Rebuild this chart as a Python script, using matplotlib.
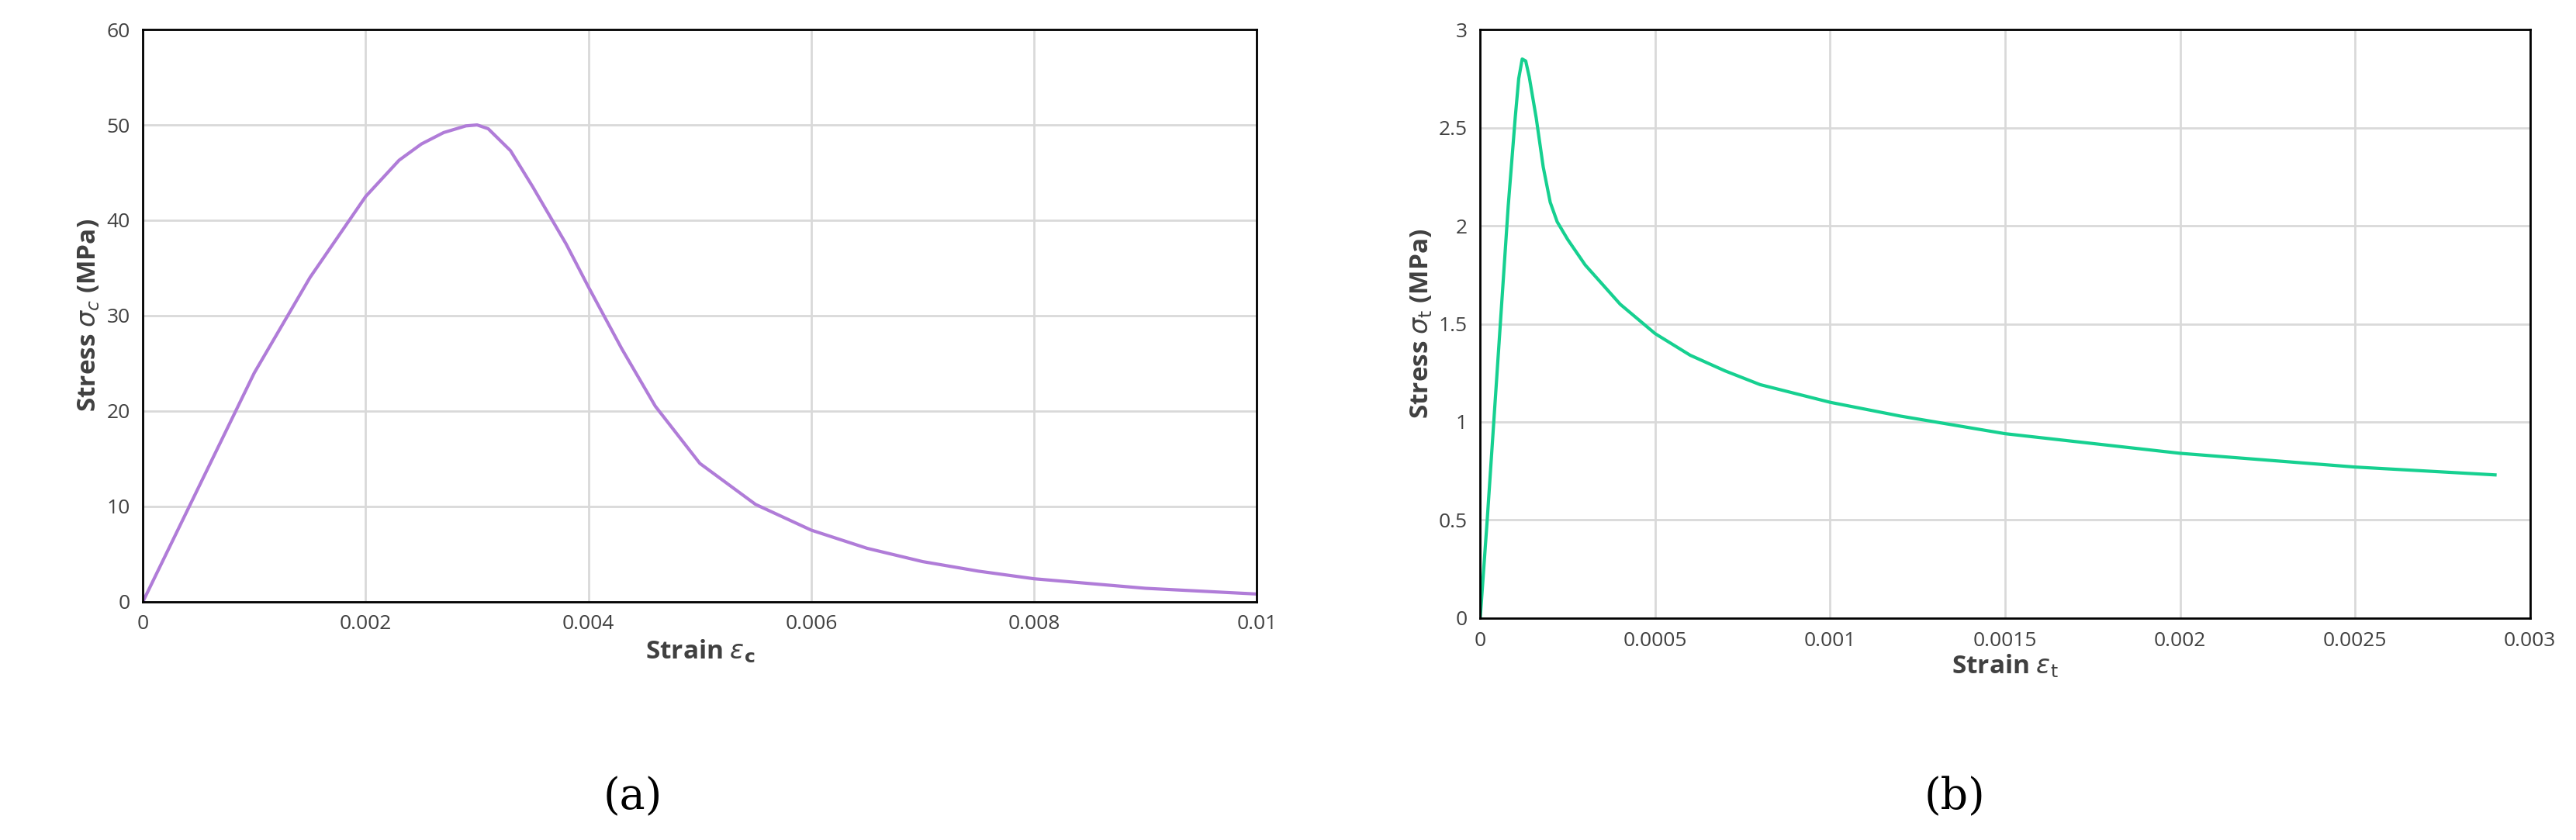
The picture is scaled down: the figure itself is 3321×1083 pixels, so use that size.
import matplotlib
matplotlib.use("Agg")
import matplotlib.pyplot as plt

plt.rcParams['font.family'] = ['Open Sans', 'DejaVu Sans']

comp_strain = [0, 0.0005, 0.001, 0.0015, 0.002, 0.0023, 0.0025, 0.0027, 0.0029, 0.003, 0.0031, 0.0033, 0.0035, 0.0038, 0.004, 0.0043, 0.0046, 0.005, 0.0055, 0.006, 0.0065, 0.007, 0.0075, 0.008, 0.009, 0.01]
comp_stress = [0, 12, 24, 34, 42.5, 46.3, 48.0, 49.2, 49.9, 50, 49.6, 47.3, 43.5, 37.5, 33, 26.5, 20.5, 14.5, 10.2, 7.5, 5.6, 4.2, 3.2, 2.4, 1.4, 0.8]
ten_strain = [0, 0.00002, 0.00005, 0.00008, 0.0001, 0.00011, 0.00012, 0.00013, 0.00014, 0.00016, 0.00018, 0.0002, 0.00022, 0.00025, 0.0003, 0.0004, 0.0005, 0.0006, 0.0007, 0.0008, 0.001, 0.0012, 0.0015, 0.002, 0.0025, 0.0029]
ten_stress = [0, 0.5, 1.3, 2.1, 2.55, 2.75, 2.85, 2.84, 2.76, 2.55, 2.3, 2.12, 2.02, 1.93, 1.8, 1.6, 1.45, 1.34, 1.26, 1.19, 1.1, 1.03, 0.94, 0.84, 0.77, 0.73]

W, H = 3321, 1083
fig = plt.figure(figsize=(W/100, H/100), dpi=100)
s, h = 1568, 511
axa = fig.add_axes([87/s, 1-366/h, (765-87)/s, (366-18)/h])
axb = fig.add_axes([901/s, 1-376/h, (1540-901)/s, (376-18)/h])

def style(ax):
    ax.grid(True, color='#d9d9d9', lw=2)
    ax.set_axisbelow(True)
    for sp in ax.spines.values():
        sp.set_color('black'); sp.set_linewidth(2)
    ax.tick_params(labelsize=19, colors='#404040', length=0, pad=12)

lab = dict(fontsize=24, fontweight='bold', color='#404040')
axa.plot(comp_strain, comp_stress, color='#b07cd8', lw=3)
axa.set_xlim(0, 0.01); axa.set_ylim(0, 60)
axa.set_xticks([0, 0.002, 0.004, 0.006, 0.008, 0.01])
axa.set_xticklabels(['0', '0.002', '0.004', '0.006', '0.008', '0.01'])
axa.set_yticks(range(0, 61, 10))
axa.set_xlabel(r'Strain $\epsilon_\mathbf{c}$', **lab)
axa.set_ylabel(r'Stress $\sigma_c$ (MPa)', **lab)
style(axa)

axb.plot(ten_strain, ten_stress, color='#16d090', lw=3)
axb.set_xlim(0, 0.003); axb.set_ylim(0, 3)
axb.set_xticks([0, 0.0005, 0.001, 0.0015, 0.002, 0.0025, 0.003])
axb.set_xticklabels(['0', '0.0005', '0.001', '0.0015', '0.002', '0.0025', '0.003'])
axb.set_yticks([0, 0.5, 1, 1.5, 2, 2.5, 3])
axb.set_yticklabels(['0', '0.5', '1', '1.5', '2', '2.5', '3'])
axb.set_xlabel(r'Strain $\epsilon_\mathrm{t}$', labelpad=2, **lab)
axb.set_ylabel(r'Stress $\sigma_\mathrm{t}$ (MPa)', **lab)
style(axb)

fig.text(385/s, 1-485/h, '(a)', fontsize=40, ha='center', va='center', family='DejaVu Serif')
fig.text(1190/s, 1-485/h, '(b)', fontsize=40, ha='center', va='center', family='DejaVu Serif')

fig.savefig('out.png', dpi=100)
